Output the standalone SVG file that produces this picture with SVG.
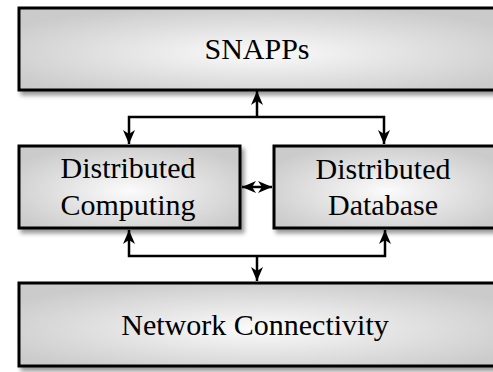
<svg xmlns="http://www.w3.org/2000/svg" width="493" height="372" viewBox="0 0 493 372">
<defs>
<radialGradient id="g" cx="0.5" cy="0.55" r="0.6">
<stop offset="0" stop-color="#fbfbfb"/>
<stop offset="1" stop-color="#cbcbcb"/>
</radialGradient>
<filter id="sh" x="-10%" y="-10%" width="130%" height="140%">
<feDropShadow dx="3" dy="4" stdDeviation="2" flood-color="#000" flood-opacity="0.4"/>
</filter>
<marker id="ah" markerUnits="userSpaceOnUse" markerWidth="15" markerHeight="13" refX="14" refY="6.5" orient="auto-start-reverse" viewBox="0 0 15 13">
<path d="M0,0.5 L14,6.5 L0,12.5 L4,6.5 z" fill="#000"/>
</marker>
</defs>
<style>
.box{fill:url(#g);stroke:#000;stroke-width:3;filter:url(#sh)}
.lbl{font-family:"Liberation Serif","Times New Roman",serif;font-size:30px;fill:#000;text-anchor:middle}
.con{fill:none;stroke:#000;stroke-width:2.5}
</style>
<rect width="493" height="372" fill="#fff"/>
<g id="snapps">
<rect class="box" x="19" y="8" width="480" height="82"/>
<text class="lbl" x="257" y="59">SNAPPs</text>
</g>
<g id="dist-computing">
<rect class="box" x="19" y="146" width="221" height="82"/>
<text class="lbl" x="128" y="178">Distributed</text>
<text class="lbl" x="128" y="215">Computing</text>
</g>
<g id="dist-database">
<rect class="box" x="274" y="146" width="225" height="82"/>
<text class="lbl" x="383" y="179">Distributed</text>
<text class="lbl" x="383" y="215">Database</text>
</g>
<g id="network">
<rect class="box" x="19" y="283" width="480" height="83"/>
<text class="lbl" x="255" y="335">Network Connectivity</text>
</g>
<g id="connectors">
<path class="con" d="M129,144 L129,117 L384,117 L384,144" marker-start="url(#ah)" marker-end="url(#ah)"/>
<path class="con" d="M257,117 L257,91" marker-end="url(#ah)"/>
<path class="con" d="M129,230 L129,256 L385,256 L385,230" marker-start="url(#ah)" marker-end="url(#ah)"/>
<path class="con" d="M257,256 L257,281" marker-end="url(#ah)"/>
<path class="con" d="M242,187 L272,187" marker-start="url(#ah)" marker-end="url(#ah)"/>
</g>
</svg>
